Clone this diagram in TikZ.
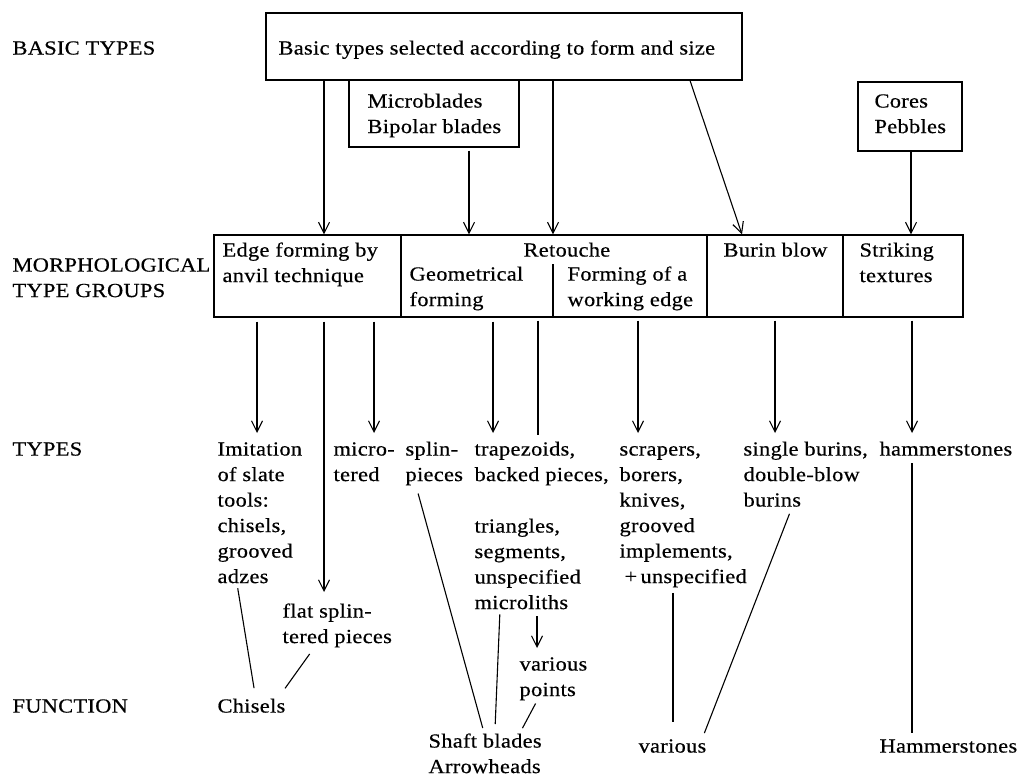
\documentclass[tikz,border=0pt]{standalone}
\usepackage{fontspec}
\setmainfont[FakeStretch=1.12,LetterSpace=1.5,FakeBold=0.5]{Liberation Serif}
\usetikzlibrary{arrows.meta}
\newcommand\fsz{\fontsize{20}{25.5}\selectfont}
\newcommand\fst{\rule{0pt}{18pt}}
\begin{document}
\begin{tikzpicture}[x=1pt,y=-1pt,line width=1.1pt,
  txt/.style={anchor=north west,inner sep=0pt,align=left,yshift=18pt,font=\fsz},
  box/.style={draw,inner sep=0pt,line width=1.1pt},
  arr/.style={-{Straight Barb[length=11pt,width=11pt]}},
  ln/.style={-}]
\useasboundingbox (0,0) rectangle (1019,778);
% left labels
\node[txt] (lbBasic) at (12,54) {\fst BASIC TYPES};
\node[txt] (lbMorph) at (12,271) {\fst MORPHOLOGICAL\\TYPE GROUPS};
\node[txt] (lbTypes) at (12,455) {\fst TYPES};
\node[txt] (lbFunc) at (12,712) {\fst FUNCTION};
% top boxes
\node[box,minimum width=476pt,minimum height=67pt] (top) at (504,46.5) {};
\node[txt] (topT) at (278,54) {\fst Basic types selected according to form and size};
\node[box,minimum width=170pt,minimum height=67pt] (mbox) at (434,113.5) {};
\node[txt] (mboxT) at (367,107) {\fst Microblades\\Bipolar blades};
\node[box,minimum width=104pt,minimum height=69pt] (cbox) at (910,116.5) {};
\node[txt] (cboxT) at (874,107) {\fst Cores\\Pebbles};
% morphological groups
\node[box,minimum width=187pt,minimum height=82pt] (edge) at (307.5,276) {};
\node[box,minimum width=306pt,minimum height=82pt] (retouche) at (554,276) {};
\node[box,minimum width=136pt,minimum height=82pt] (burin) at (775,276) {};
\node[box,minimum width=120pt,minimum height=82pt] (striking) at (903,276) {};
\draw (retouche.south -| 553,0) -- ++(0,-54);
\node[txt] (edgeT) at (222,256) {\fst Edge forming by\\anvil technique};
\node[txt] (retT) at (523,256) {\fst Retouche};
\node[txt] (geoT) at (409,280) {\fst Geometrical\\forming};
\node[txt] (formT) at (567,280) {\fst Forming of a\\working edge};
\node[txt] (burT) at (723,256) {\fst Burin blow};
\node[txt] (strT) at (859,256) {\fst Striking\\textures};
% types
\node[txt] (imit) at (217,455) {\fst Imitation\\of slate\\tools:\\chisels,\\grooved\\adzes};
\node[txt] (micro) at (333,455) {\fst micro-\\tered};
\node[txt] (splin) at (405,455) {\fst splin-\\pieces};
\node[txt] (trap) at (474,455) {\fst trapezoids,\\backed pieces,};
\node[txt] (tri) at (474,532) {\fst triangles,\\segments,\\unspecified\\microliths};
\node[txt] (flat) at (282,617) {\fst flat splin-\\tered pieces};
\node[txt] (vpoints) at (519,670) {\fst various\\points};
\node[txt] (scrap) at (619,455) {\fst scrapers,\\borers,\\knives,\\grooved\\implements,\\\hspace*{5pt}+\,unspecified};
\node[txt] (burins) at (743,455) {\fst single burins,\\double-blow\\burins};
\node[txt] (hammer) at (879,455) {\fst hammerstones};
% functions
\node[txt] (chisels) at (217,712) {\fst Chisels};
\node[txt] (shaft) at (428,747) {\fst Shaft blades\\Arrowheads};
\node[txt] (various) at (638,752) {\fst various};
\node[txt] (hammer2) at (879,752) {\fst Hammerstones};
% connectors top
\draw[arr] (top.south -| 324,0) -- (edge.north -| 324,0);
\draw[arr,shorten <=3pt] (mbox.south -| 469,0) -- (retouche.north -| 469,0);
\draw[arr] (top.south -| 553,0) -- (retouche.north -| 553,0);
\draw[arr] (top.south -| 690,0) -- (burin.north -| 742,0);
\draw[arr] (cbox.south -| 911,0) -- (striking.north -| 911,0);
% connectors middle
\draw[arr,shorten <=4pt,shorten >=4pt] (edge.south -| 257,0) -- (imit.north -| 257,0);
\draw[arr,shorten <=4pt,shorten >=7pt] (edge.south -| 324,0) -- (flat.north -| 324,0);
\draw[arr,shorten <=4pt,shorten >=4pt] (edge.south -| 374,0) -- (micro.north -| 374,0);
\draw[arr,shorten <=4pt,shorten >=4pt] (retouche.south -| 493,0) -- (trap.north -| 493,0);
\draw[ln,shorten <=3pt,shorten >=2pt] (retouche.south -| 538,0) -- (trap.north -| 538,0);
\draw[arr,shorten <=3pt,shorten >=4pt] (retouche.south -| 638,0) -- (scrap.north -| 638,0);
\draw[arr,shorten <=3pt,shorten >=4pt] (burin.south -| 775,0) -- (burins.north -| 775,0);
\draw[arr,shorten <=3pt,shorten >=4pt] (striking.south -| 912,0) -- (hammer.north -| 912,0);
% connectors lower
\draw[ln,shorten <=4.5pt,shorten >=6pt] (imit.south -| 237,0) -- (chisels.north -| 255,0);
\draw[ln,shorten <=7.5pt,shorten >=7pt] (flat.south -| 314,0) -- (chisels.north -| 281,0);
\draw[arr,shorten <=6.5pt,shorten >=4pt] (tri.south -| 537,0) -- (vpoints.north -| 537,0);
\draw[ln,shorten <=8pt,shorten >=1pt] (splin.south -| 416,0) -- (shaft.north -| 483,0);
\draw[ln,shorten <=4.5pt,shorten >=5pt] (tri.south -| 500,0) -- (shaft.north -| 495,0);
\draw[ln,shorten <=3pt,shorten >=1pt] (vpoints.south -| 537,0) -- (shaft.north -| 522,0);
\draw[ln,shorten <=5pt,shorten >=12pt] (scrap.south -| 673,0) -- (various.north -| 673,0);
\draw[ln,shorten <=7pt,shorten >=1pt] (burins.south -| 792,0) -- (various.north -| 704,0);
\draw[ln,shorten <=7pt,shorten >=1pt] (hammer.south -| 912,0) -- (hammer2.north -| 912,0);
\end{tikzpicture}
\end{document}
